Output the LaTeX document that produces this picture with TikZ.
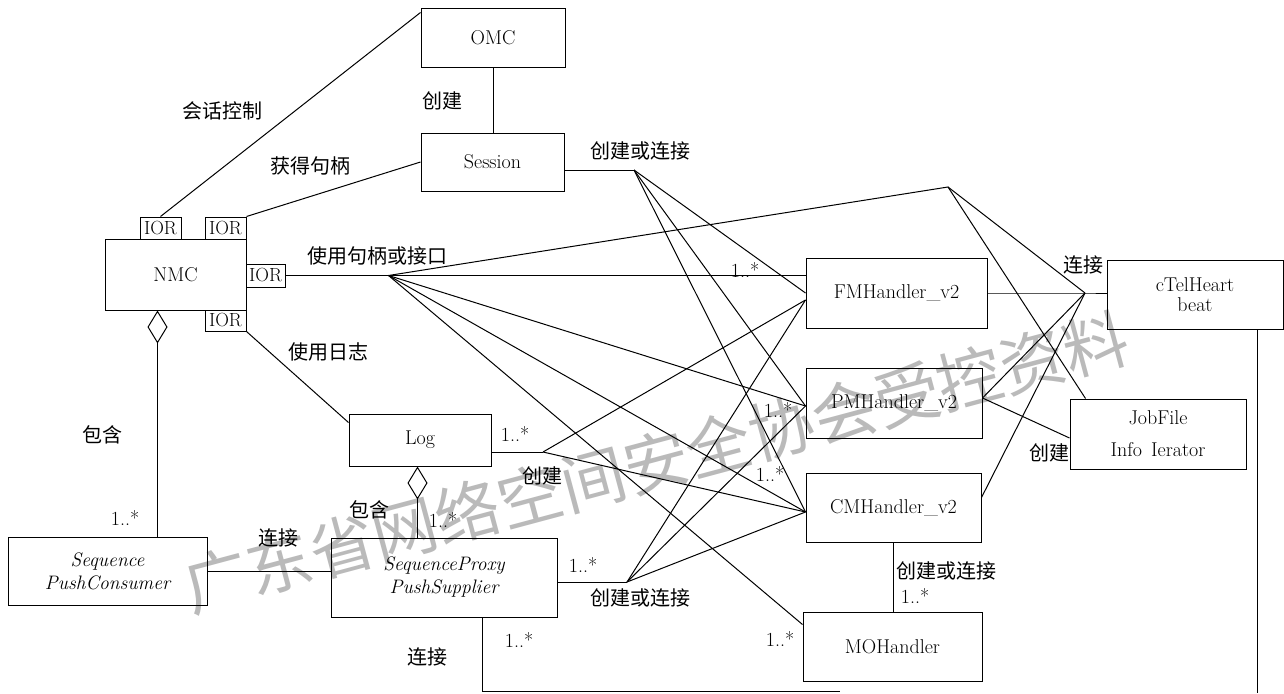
\documentclass[tikz,border=0pt]{standalone}
\usepackage{fontspec}
\newfontfamily\cjkf{Noto Sans CJK SC}
\usetikzlibrary{calc,arrows.meta}
\newcommand\latf{\fontsize{20}{22}\selectfont}
\begin{document}
\begin{tikzpicture}[x=1pt,y=-1pt,line width=1pt,
  box/.style={draw,inner sep=0pt,align=center,font=\latf},
  ior/.style={draw,inner sep=0pt,minimum width=41,minimum height=22,font=\fontsize{19}{21}\selectfont},
  lab/.style={inner sep=0pt,font=\cjkf\fontsize{20}{22}\selectfont},
  mult/.style={inner sep=0pt,font=\latf},
  agg/.style={{Diamond[open,length=33pt,width=20pt]}-}]
\fill[white] (0,0) rectangle (1284,693);
\useasboundingbox (0,0) rectangle (1284,693);
% watermark
\node[rotate=15,text=black!27,inner sep=0pt,font=\cjkf\fontsize{65}{65}\selectfont] (wm) at (656,462) {广东省网络空间安全协会受控资料};
% boxes
\node[box,minimum width=144,minimum height=58] (OMC) at (493,38) {OMC};
\node[box,minimum width=143,minimum height=58] (Ses) at (492.5,162) {Session};
\node[box,minimum width=141,minimum height=71] (NMC) at (175.5,274.5) {NMC};
\node[ior] (I1) at (160.5,228) {IOR};
\node[ior] (I2) at (225.5,228) {IOR};
\node[ior,minimum width=39,minimum height=23] (I3) at (265.5,275.5) {IOR};
\node[ior,minimum height=21] (I4) at (225.5,320.5) {IOR};
\node[box,minimum width=142,minimum height=52] (Log) at (420,440) {Log};
\node[box,minimum width=199,minimum height=68,font=\fontsize{19.5}{23}\selectfont\itshape] (Con) at (107.5,571) {Sequence\\PushConsumer};
\node[box,minimum width=226,minimum height=79,font=\fontsize{19.5}{23}\selectfont\itshape] (SP) at (444,577.5) {SequenceProxy\\PushSupplier};
\node[box,minimum width=181,minimum height=70] (FM) at (896.5,293) {FMHandler\_v2};
\node[box,minimum width=176,minimum height=70] (PM) at (894,403) {PMHandler\_v2};
\node[box,minimum width=175,minimum height=69] (CM) at (893.5,507.5) {CMHandler\_v2};
\node[box,minimum width=179,minimum height=69] (MO) at (892.5,646.5) {MOHandler};
\node[box,minimum width=176,minimum height=69,font=\fontsize{20}{20}\selectfont] (TH) at (1195,294.5) {cTelHeart\\beat};
\node[box,minimum width=176,minimum height=70,font=\fontsize{20}{32}\selectfont] (JF) at (1158,434) {JobFile\\Info\hspace{9pt}Ierator};
% fan points
\path (I3.east) ++(103,0) coordinate (N);
\coordinate (S) at (634,170);
\coordinate (L) at (543,452);
\coordinate (P) at (627,582);
\coordinate (T) at (1085,293);
\coordinate (C) at (948,187);
\coordinate (fmq) at ($(FM.west)+(0,7)$);
\coordinate (pmp) at ($(PM.west)+(0,3)$);
\coordinate (cmp) at ($(CM.west)+(0,4.5)$);
\coordinate (pmr) at ($(PM.east)+(0,-5)$);
\coordinate (spEnd) at (840,691);
\coordinate (thEnd) at (1257,693);
% connectors
\draw (I1.north) -- ($(OMC.north west)+(0,4)$);
\draw (I2.north east) -- (Ses.west);
\draw (OMC.south) -- (OMC.south |- Ses.north);
\draw (I4.south east) -- ($(Log.north west)+(0,9)$);
\draw (I3.east) -- (N) -- (N -| FM.west);
\draw (N) -- (C) -- (T);
\draw (C) -- ($(JF.north west)+(16,0)$);
\draw (N) -- (pmp);
\draw (N) -- (cmp);
\draw (N) -- ($(MO.north west)+(0,13)$);
\draw ($(Ses.east)+(0,8)$) -- (S);
\draw (S) -- (FM.west);
\draw (S) -- (pmp);
\draw (S) -- (cmp);
\draw ($(Log.east)+(0,12)$) -- (L);
\draw (L) -- (fmq);
\draw (L) -- (cmp);
\draw ($(SP.east)+(0,4.5)$) -- (P);
\draw (P) -- (fmq);
\draw (P) -- (pmp);
\draw (P) -- (cmp);
\draw (FM.east) -- (T) -- (TH.west |- T);
\draw (T) -- (pmr);
\draw (T) -- ($(CM.east)+(0,-10)$);
\draw (pmr) -- ($(JF.west)+(0,4)$);
\draw (CM.south) -- (CM.south |- MO.north);
\draw[agg] ($(NMC.south west)+(53,0)$) coordinate (nd) -- (nd |- Con.north);
\draw[agg] ($(Log.south west)+(69,0)$) coordinate (ld) -- (ld |- SP.north);
\draw (Con.east) -- (Con.east -| SP.west);
\draw ($(SP.south west)+(152,0)$) |- (spEnd);
\draw ($(TH.south east)+(-26,0)$) coordinate (thb) -- (thb |- thEnd);
% labels
\node[lab] (l1) at (222,111) {会话控制};
\node[lab] (l2) at (310,166) {获得句柄};
\node[lab] (l3) at (442,101) {创建};
\node[lab] (l4) at (640,151) {创建或连接};
\node[lab] (l5) at (377,256) {使用句柄或接口};
\node[lab] (l6) at (328,352) {使用日志};
\node[lab] (l7) at (102,435) {包含};
\node[lab] (l8) at (542,476) {创建};
\node[lab] (l9) at (369,510) {包含};
\node[lab] (l10) at (278,538) {连接};
\node[lab] (l11) at (640,598) {创建或连接};
\node[lab] (l12) at (427,657) {连接};
\node[lab] (l13) at (946,571) {创建或连接};
\node[lab] (l14) at (1083,265) {连接};
\node[lab] (l15) at (1049,453) {创建};
\node[mult] (m1) at (745,270) {1..*};
\node[mult] (m2) at (778,410) {1..*};
\node[mult] (m3) at (770,474) {1..*};
\node[mult] (m4) at (515,434) {1..*};
\node[mult] (m5) at (443,520) {1..*};
\node[mult] (m6) at (583,565) {1..*};
\node[mult] (m7) at (519,640) {1..*};
\node[mult] (m8) at (780,639) {1..*};
\node[mult] (m9) at (915,596) {1..*};
\node[mult] (m10) at (125,518) {1..*};
\end{tikzpicture}
\end{document}
